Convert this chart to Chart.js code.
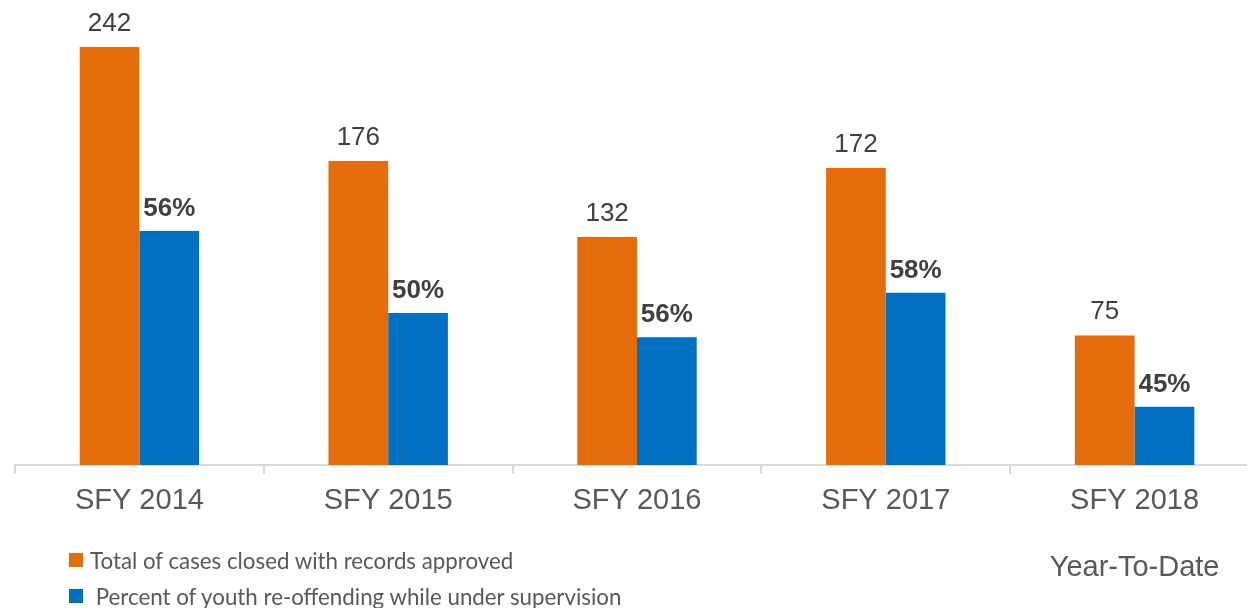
<!DOCTYPE html>
<html>
<head>
<meta charset="utf-8">
<script src="https://cdn.jsdelivr.net/npm/chart.js@4/dist/chart.umd.min.js"></script>
<style>
  html, body { margin: 0; padding: 0; background: #fff; overflow: hidden; }
  #wrap { position: relative; width: 1247px; height: 608px; overflow: hidden; }
  #chart { position: absolute; left: 0; top: 0; }
  #legend { position: absolute; left: 69px; top: 542px; font-family: Lato, "Open Sans", sans-serif; font-size: 22.3px; color: #595959; }
  #legend .item { display: flex; align-items: center; height: 36px; }
  #legend .box { width: 14px; height: 14px; margin-right: 7px; flex: none; }
</style>
</head>
<body>
<div id="wrap">
  <canvas id="chart" width="1260" height="608"></canvas>
  <div id="legend"></div>
</div>
<script>
// fiscal years, last one is still running
const years = ['SFY 2014', 'SFY 2015', 'SFY 2016', 'SFY 2017', ['SFY 2018', '', 'Year-To-Date']];
const totalCases = [242, 176, 132, 172, 75];
const reoffendPct = [56, 50, 56, 58, 45];
const seriesNames = ['Total of cases closed with records approved', ' Percent of youth re-offending while under supervision'];
const seriesColors = ['#E46C0A', '#0070C0'];

// blue bars show how many of the closed cases re-offended
const reoffendCount = totalCases.map((t, i) => t * reoffendPct[i] / 100);

const FONT = '"Liberation Sans", Arial, sans-serif';

// draws the number above each bar (counts plain, percents bold)
const barLabels = {
  id: 'barLabels',
  afterDatasetsDraw(chart) {
    const ctx = chart.ctx;
    ctx.save();
    ctx.fillStyle = '#404040';
    ctx.textAlign = 'center';
    ctx.textBaseline = 'alphabetic';
    chart.data.datasets.forEach((ds, di) => {
      const meta = chart.getDatasetMeta(di);
      ctx.font = (di === 1 ? 'bold ' : '') + '26px ' + FONT;
      meta.data.forEach((bar, i) => {
        const text = di === 1 ? reoffendPct[i] + '%' : String(totalCases[i]);
        ctx.fillText(text, bar.x, bar.y - (di === 1 ? 15 : 16));
      });
    });
    ctx.restore();
  }
};

const chart = new Chart(document.getElementById('chart'), {
  type: 'bar',
  data: {
    labels: years,
    datasets: [
      { label: seriesNames[0], data: totalCases, backgroundColor: seriesColors[0] },
      { label: seriesNames[1], data: reoffendCount, backgroundColor: seriesColors[1] }
    ]
  },
  options: {
    responsive: false,
    animation: false,
    devicePixelRatio: 1,
    layout: { padding: { left: 15, right: 1, top: 16, bottom: 0 } },
    datasets: { bar: { categoryPercentage: 0.48, barPercentage: 1 } },
    plugins: { legend: { display: false }, tooltip: { enabled: false } },
    scales: {
      x: {
        grid: { offset: true, drawOnChartArea: false, tickLength: 9, color: '#d9d9d9', lineWidth: 2 },
        border: { color: '#d9d9d9', width: 2 },
        ticks: { color: '#595959', padding: 10, maxRotation: 0, autoSkip: false,
                 font: { family: FONT, size: 29, lineHeight: 1.16 } },
        afterFit(scale) { scale.height = 143; }
      },
      y: { display: false, min: 0, max: 260 }
    }
  },
  plugins: [barLabels]
});

// html legend built from the datasets
const legend = document.getElementById('legend');
chart.data.datasets.forEach(ds => {
  const item = document.createElement('div');
  item.className = 'item';
  const box = document.createElement('span');
  box.className = 'box';
  box.style.background = ds.backgroundColor;
  const txt = document.createElement('span');
  txt.textContent = ds.label;
  txt.style.whiteSpace = 'pre';
  item.appendChild(box);
  item.appendChild(txt);
  legend.appendChild(item);
});
</script>
</body>
</html>
